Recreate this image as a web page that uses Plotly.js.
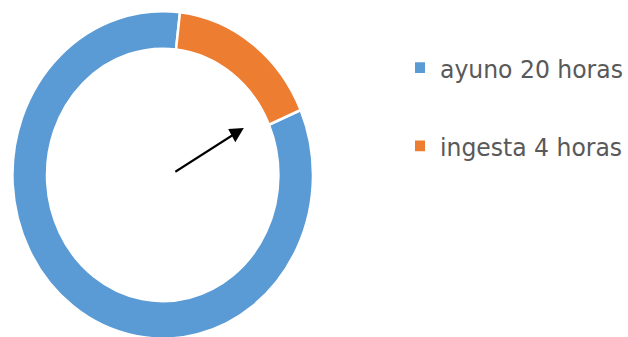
<!DOCTYPE html>
<html>
<head>
<meta charset="utf-8">
<script src="https://cdn.plot.ly/plotly-3.0.1.min.js"></script>
<style>
  html, body { margin: 0; padding: 0; background: #ffffff; overflow: hidden; width: 628px; height: 337px; }
  #chart { width: 628px; height: 315px; transform: scale(1, 1.09); transform-origin: 0 0; }
</style>
</head>
<body>
<div id="chart"></div>
<script>
// Data
var labels = ["ayuno 20 horas", "ingesta 4 horas"];
var hours = [20, 4];
var colors = ["#5B9BD5", "#ED7D31"];

var W = 628, H = 315;

var pie = {
  type: "pie",
  labels: labels,
  values: hours,
  hole: 0.77,
  sort: false,
  direction: "clockwise",
  rotation: 66.6,
  textinfo: "none",
  hoverinfo: "label+value",
  showlegend: false,
  marker: { colors: colors, line: { color: "#ffffff", width: 2.5 } },
  domain: { x: [12.5 / W, 314.5 / W], y: [3.5 / H, 305.5 / H] }
};

// legend entries (one per slice, same labels and colours as the pie)
var legendTraces = labels.map(function (lab, i) {
  return {
    type: "scatter",
    mode: "markers",
    x: [null], y: [null],
    name: lab,
    legendgroup: "g" + i,
    showlegend: true,
    hoverinfo: "skip",
    marker: { symbol: "square", size: 10, color: colors[i] }
  };
});

var layout = {
  width: W,
  height: H,
  margin: { l: 0, r: 0, t: 0, b: 0, pad: 0 },
  paper_bgcolor: "#ffffff",
  plot_bgcolor: "#ffffff",
  xaxis: { visible: false },
  yaxis: { visible: false },
  showlegend: true,
  legend: {
    x: 402 / W, xanchor: "left",
    y: 1 - 40.3 / H, yanchor: "top",
    traceorder: "grouped",
    tracegroupgap: 38.2,
    font: { family: "DejaVu Sans", size: 23.5, color: "#595959" },
    bgcolor: "rgba(0,0,0,0)",
    borderwidth: 0
  },
  annotations: [{
    xref: "paper", yref: "paper",
    x: 245 / W, y: 1 - 117.4 / H,
    ax: -70, ay: 41,
    text: "",
    showarrow: true,
    arrowhead: 2,
    arrowsize: 1.4,
    arrowwidth: 2,
    arrowcolor: "#000000",
    standoff: 0
  }]
};

Plotly.newPlot("chart", [pie].concat(legendTraces), layout, { displayModeBar: false, staticPlot: true });
</script>
</body>
</html>
